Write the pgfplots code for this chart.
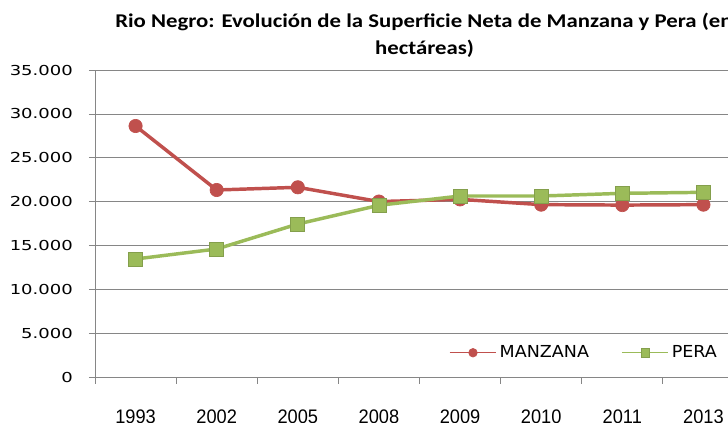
\documentclass[border=0pt]{standalone}
\usepackage{fontspec}
\usepackage{pgfplots}
\pgfplotsset{compat=1.18}
\newfontfamily\titlefont[FakeStretch=1.17]{Carlito}
\newfontfamily\tickfont[FakeStretch=1.31]{DejaVu Sans}
\newfontfamily\legfont[FakeStretch=1.06]{DejaVu Sans}
\newfontfamily\yearfont[FakeStretch=0.93]{Liberation Sans}
\definecolor{mred}{RGB}{192,80,77}
\definecolor{mgreen}{RGB}{155,187,89}
\definecolor{gridc}{RGB}{134,134,134}
\begin{document}
\begin{tikzpicture}
\useasboundingbox (0,0) rectangle (546pt,-317.25pt);
\clip (0,0) rectangle (546pt,-317.25pt);
\begin{axis}[
  at={(71.25pt,-283.5pt)}, anchor=south west,
  scale only axis, width=486.75pt, height=231pt,
  xmin=-0.5, xmax=7.5, ymin=0, ymax=35000,
  axis line style={draw=gridc, line width=0.75pt},
  axis x line*=bottom, axis y line*=left,
  xtick={0,...,7},
  xticklabels={1993,2002,2005,2008,2009,2010,2011,2013},
  minor xtick={-0.5,0.5,...,7.5},
  ytick={0,5000,...,35000},
  ymajorgrids, grid style={draw=gridc, line width=0.75pt},
  tick align=outside,
  tick style={draw=gridc, line width=0.75pt},
  major x tick style={draw=none},
  minor tick length=4.5pt, major tick length=4.5pt,
  /pgf/number format/assume math mode=true,
  /pgf/number format/.cd, 1000 sep={.}, fixed, precision=0,
  /pgfplots/.cd,
  scaled y ticks=false,
  yticklabel style={font=\tickfont\fontsize{10.3pt}{12pt}\selectfont, anchor=east, inner sep=0pt, xshift=-12pt},
  xticklabel style={font=\yearfont\fontsize{14.7pt}{17pt}\selectfont, anchor=north, inner sep=0pt, yshift=-19.5pt},
  legend style={draw=none, fill=none, at={(0.969,0.082)}, anchor=east,
    legend columns=2, font=\legfont\fontsize{12.4pt}{14pt}\selectfont,
    /tikz/every even column/.append style={column sep=22pt}},
  legend image code/.code={\draw[mark repeat=2,mark phase=2,#1, line width=1.1pt, mark size=3.2pt] plot coordinates {(0pt,0pt)(17.5pt,0pt)(35pt,0pt)};},
  clip=false,
]
\addplot[color=mred, line width=2.6pt, mark=*, mark size=5pt, mark options={fill=mred, draw=mred, line width=0.5pt}]
 coordinates {(0,28636)(1,21364)(2,21670)(3,20050)(4,20300)(5,19700)(6,19650)(7,19700)};
\addlegendentry{MANZANA}
\addplot[color=mgreen, line width=2.6pt, mark=square*, mark size=5.25pt, mark options={fill=mgreen, draw=mgreen!85!black, line width=0.5pt}]
 coordinates {(0,13523)(1,14659)(2,17500)(3,19625)(4,20680)(5,20680)(6,20985)(7,21100)};
\addlegendentry{PERA}
\end{axis}
\node[anchor=base west, inner sep=0pt, font=\titlefont\bfseries\fontsize{14.6pt}{17pt}\selectfont] at (86.25pt,-21pt) {Rio Negro: Evolución de la Superficie Neta de Manzana y Pera (en};
\node[anchor=base, inner sep=0pt, font=\titlefont\bfseries\fontsize{14.6pt}{17pt}\selectfont] at (318.4pt,-41.25pt) {hectáreas)};
\end{tikzpicture}
\end{document}
